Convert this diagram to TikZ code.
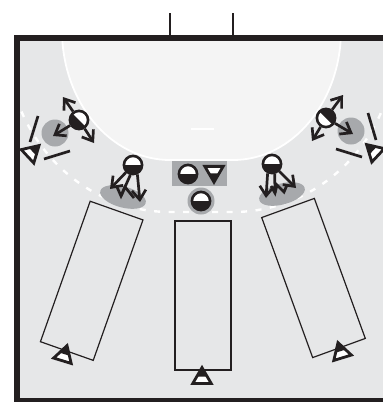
\documentclass[tikz,border=0pt]{standalone}
\usetikzlibrary{arrows.meta,shapes.geometric}
\definecolor{courtgrey}{HTML}{E6E7E8}
\definecolor{zonegrey}{HTML}{F4F4F4}
\definecolor{markgrey}{HTML}{A7A9AC}
\definecolor{inkblack}{HTML}{231F20}
\tikzset{
  attacker/.pic={
    \draw[inkblack, line width=2.8pt, miter limit=10, fill=white] (0,-12.4) -- (9.2,3.4) -- (-9.2,3.4) -- cycle;
    \fill[inkblack] (0,-12.4) -- (5.2,-3.5) -- (-5.2,-3.5) -- cycle;
  },
  player/.style={circle, draw=inkblack, line width=2.6pt, fill=white, minimum size=18.2pt, inner sep=0pt,
    path picture={
      \fill[inkblack] (path picture bounding box.center) ++({14*cos(#1)},{14*sin(#1)}) -- ++({-14*sin(#1)},{14*cos(#1)})
        -- ++({-28*cos(#1)},{-28*sin(#1)}) -- ++({14*sin(#1)},{-14*cos(#1)}) -- cycle;
    }}
}
\begin{document}
\begin{tikzpicture}[x=1pt,y=-1pt,>={Straight Barb[length=9.5pt,width=14pt]}]
  \tikzstyle{lane}=[draw=inkblack, line width=1.2pt, minimum width=56pt, minimum height=149pt, inner sep=0pt]
  \tikzstyle{spot}=[circle, fill=markgrey, minimum size=27pt, inner sep=0pt]
  \tikzstyle{patch}=[ellipse, fill=markgrey, minimum width=47pt, minimum height=21pt, inner sep=0pt]
  \tikzstyle{move}=[->, inkblack, line width=2.7pt, line join=miter]
  \tikzstyle{bar}=[inkblack, line width=2.7pt]

  \useasboundingbox (0,0) rectangle (383,402);

  % Court and zones
  \fill[courtgrey] (14,35) rectangle (390,402);
  \begin{scope}
    \clip (17,38) rectangle (390,400);
    \draw[white, line width=1.8pt, fill=zonegrey] (62,20) -- (62,30) arc[start angle=180, end angle=90, x radius=108, y radius=130]
      -- (233,160) arc[start angle=90, end angle=0, x radius=108, y radius=130] -- (341,20) -- cycle;
    \draw[white, line width=2.4pt, dash pattern=on 6pt off 8.5pt] (7,41) arc[start angle=180, end angle=90, x radius=163, y radius=171]
      -- (233,212) arc[start angle=90, end angle=0, x radius=163, y radius=171];
  \end{scope}
  \draw[white, line width=1.2pt] (191,129) -- (214,129);
  \draw[inkblack, line width=5.5pt] (16.75,402) -- (16.75,37.75) -- (390,37.75);
  \draw[inkblack, line width=4pt] (14,400) -- (390,400);
  \draw[inkblack, line width=2.7pt] (170,13) -- (170,36);
  \draw[inkblack, line width=2.7pt] (233,13) -- (233,36);

  % Lanes
  \node[lane, rotate=-19.5] (laneL) at (91.7,280.8) {};
  \node[lane] (laneC) at (203,295.5) {};
  \node[lane, rotate=20] (laneR) at (313.5,278) {};

  % Grey marks
  \node[spot] (spotL) at (55,133) {};
  \node[spot] (spotR) at (351,131) {};
  \node[patch, rotate=-15] (patchL) at (123,197) {};
  \node[patch, rotate=15] (patchR) at (282,194) {};
  \node[fill=markgrey, minimum width=55pt, minimum height=25pt, inner sep=0pt] (block) at (199.5,173.5) {};
  \node[spot] (ring) at (201,201) {};

  % Players
  \node[player=45] (wingL) at (79,120) {};
  \node[player=225] (wingR) at (326,118) {};
  \node[player=0] (shotL) at (133,165) {};
  \node[player=0] (shotR) at (272,164) {};
  \node[player=0] (keepA) at (188,174) {};
  \node[player=0] (keepB) at (201,201) {};
  \pic (sideL) at (30,154) [rotate=-47] {attacker};
  \pic (sideR) at (375.6,153) [rotate=47] {attacker};
  \pic (backL) at (63.4,357.5) [rotate=-17] {attacker};
  \pic (backC) at (202,380) {attacker};
  \pic (backR) at (341.6,354.5) [rotate=17] {attacker};
  \pic (top) at (214,169.75) [rotate=180] {attacker};

  % Arrow ends
  \coordinate (wingLa) at (63,97);
  \coordinate (wingLb) at (53,136);
  \coordinate (wingLc) at (94,143);
  \coordinate (wingRa) at (343,95);
  \coordinate (wingRb) at (312,141);
  \coordinate (wingRc) at (353,134);
  \coordinate (shotLa) at (110,189);
  \coordinate (shotLb) at (140,202);
  \coordinate (shotLz) at (121,196);
  \coordinate (shotRa) at (266,198);
  \coordinate (shotRb) at (296,188);
  \coordinate (shotRz) at (275,193);

  % Moves
  \draw[move] (wingL) -- (wingLa);
  \draw[move] (wingL) -- (wingLb);
  \draw[move] (wingL) -- (wingLc);
  \draw[move] (wingR) -- (wingRa);
  \draw[move] (wingR) -- (wingRb);
  \draw[move] (wingR) -- (wingRc);
  \draw[move] (shotL) -- (shotLa);
  \draw[move] (shotL.-65) -- (shotLb);
  \draw[bar] (shotL.-105) -- (shotLz);
  \draw[bar] (117,187) -- (shotLz) -- (125,187) -- (134,198);
  \draw[move] (shotR.-115) -- (shotRa);
  \draw[move] (shotR) -- (shotRb);
  \draw[bar] (shotR.-75) -- (shotRz);
  \draw[bar] (271,186) -- (shotRz) -- (277,185) -- (284,192) -- (287,185);

  % Bars beside the side players
  \coordinate (barLa) at (38,116);
  \coordinate (barLb) at (30,142);
  \coordinate (barLc) at (44,159);
  \coordinate (barLd) at (70,151);
  \coordinate (barRa) at (368,113);
  \coordinate (barRb) at (376,140);
  \coordinate (barRc) at (336,149);
  \coordinate (barRd) at (362,157);
  \draw[bar] (barLa) -- (barLb);
  \draw[bar] (barLc) -- (barLd);
  \draw[bar] (barRa) -- (barRb);
  \draw[bar] (barRc) -- (barRd);
\end{tikzpicture}
\end{document}
